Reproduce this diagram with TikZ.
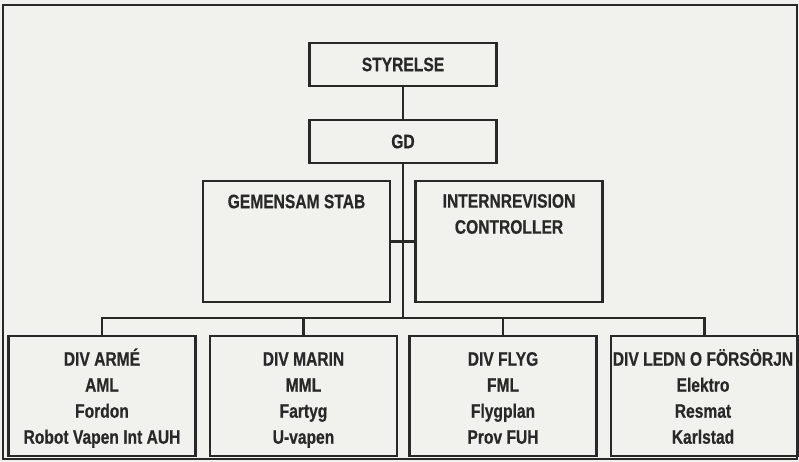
\documentclass[tikz,border=0pt]{standalone}
\usepackage{fontspec}
\setmainfont{Liberation Sans}[FakeStretch=0.8, BoldFeatures={FakeBold=0.5}]
\usetikzlibrary{calc}
\definecolor{ink}{RGB}{40,40,40}
\definecolor{paper}{RGB}{241,241,238}
\newcommand{\fstrut}{\rule{0pt}{20pt}}
\tikzset{
  box/.style={draw=ink, line width=2.2pt, rectangle, inner sep=0pt, minimum width=#1},
  box/.default=187pt,
  txt/.style={text=ink, font=\fontsize{19.5}{26}\selectfont\bfseries, align=center, inner sep=0pt},
  conn/.style={draw=ink, line width=2.2pt}
}
\begin{document}
\begin{tikzpicture}[x=1pt,y=-1pt]
\useasboundingbox (0,0) rectangle (799,462);
\fill[paper] (0,0) rectangle (799,462);
\draw[ink, line width=2pt] (3,5) rectangle (797,459);
% top boxes
\node[box, minimum height=43pt] (sty) at (403,64.5) {};
\node[txt] (styt) at (sty.center) {STYRELSE};
\node[box, minimum height=43pt] (gd) at (403,141.5) {};
\node[txt] (gdt) at (gd.center) {GD};
\node[box, minimum height=121pt] (gs) at (296.5,241.5) {};
\node[txt] (gst) at (296.5,201.5) {GEMENSAM STAB};
\node[box, minimum height=121pt] (ir) at (509,241.5) {};
\node[txt, anchor=north] (irt) at (509,187.5) {\fstrut INTERNREVISION\\CONTROLLER};
% bottom boxes
\node[box, minimum height=120pt] (d1) at (102,396) {};
\node[box, minimum height=120pt] (d2) at (303.5,396) {};
\node[box, minimum height=120pt] (d3) at (503,396) {};
\node[box, minimum height=120pt] (d4) at (704.5,396) {};
\node[txt, anchor=north] (d1t) at (102,345.5) {\fstrut DIV ARMÉ\\AML\\Fordon\\Robot Vapen Int AUH};
\node[txt, anchor=north] (d2t) at (303.5,345.5) {\fstrut DIV MARIN\\MML\\Fartyg\\U-vapen};
\node[txt, anchor=north] (d3t) at (503,345.5) {\fstrut DIV FLYG\\FML\\Flygplan\\Prov FUH};
\node[txt, anchor=north] (d4t) at (703,345.5) {\fstrut DIV LEDN O FÖRSÖRJN\\Elektro\\Resmat\\Karlstad};
% connectors
\coordinate (busc) at (403,318);
\draw[conn] (sty) -- (gd);
\draw[conn] (gd) -- (busc);
\draw[conn] (gs.east) -- (ir.west);
\draw[conn] (d1.north) |- (busc) -| (d4.north);
\draw[conn] (d2.north) -- (d2.north |- busc);
\draw[conn] (d3.north) -- (d3.north |- busc);
\end{tikzpicture}
\end{document}
